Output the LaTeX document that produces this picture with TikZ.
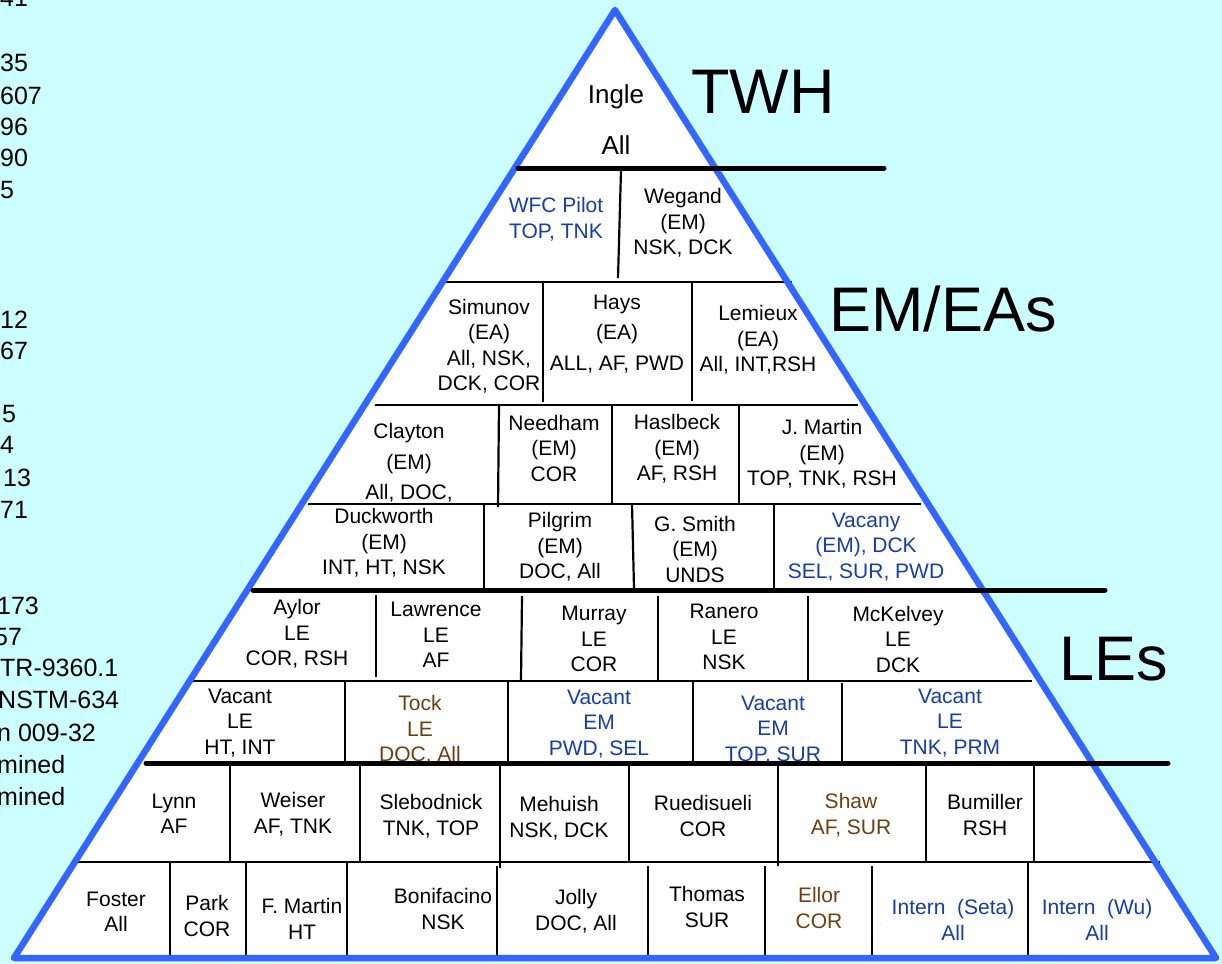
\documentclass[tikz,border=0pt]{standalone}
\usepackage{fontspec}
\setmainfont{Liberation Sans}
\definecolor{bgcyan}{RGB}{204,255,255}
\definecolor{triblue}{RGB}{51,102,255}
\definecolor{txtblue}{RGB}{22,62,168}
\definecolor{txtbrown}{RGB}{110,62,14}
\begin{document}
\begin{tikzpicture}[x=1pt,y=-1pt,
  cell/.style={align=center,inner sep=0pt,font=\fontsize{21}{25.5}\selectfont},
  widecell/.style={align=center,inner sep=0pt,font=\fontsize{21}{30.5}\selectfont},
  topcell/.style={inner sep=0pt,font=\fontsize{26}{30}\selectfont},
  bluetxt/.style={text=txtblue},
  browntxt/.style={text=txtbrown},
  tier/.style={inner sep=0pt,font=\fontsize{63}{70}\selectfont},
  sidetxt/.style={anchor=west,inner sep=0pt,font=\fontsize{25}{30}\selectfont},
  thinline/.style={line width=2.2pt},
  thickline/.style={line width=5pt,line cap=round},
  pyramidline/.style={draw=triblue,line width=6.5pt,line join=round}
]
\useasboundingbox (0,0) rectangle (1222,963);
\fill[bgcyan] (0,0) rectangle (1222,963);
\clip (0,0) rectangle (1222,963);

% pyramid
\coordinate (apex) at (615,10);
\coordinate (bl) at (14,958);
\coordinate (br) at (1216,958);
\fill[white] (apex) -- (bl) -- (br) -- cycle;

% thin horizontal separators
\draw[thinline] (446,282) -- (792,282);
\draw[thinline] (375,405) -- (858,405);
\draw[thinline] (308,504) -- (921,504);
\draw[thinline] (187,681) -- (1032,681);
\draw[thinline] (72,862) -- (1160,862);

% thin vertical separators
\draw[thinline] (621,170) -- (618,278);
\draw[thinline] (543,282) -- (543,402);
\draw[thinline] (692,282) -- (692,401);
\draw[thinline] (499,405) -- (498,507);
\draw[thinline] (612,405) -- (612,503);
\draw[thinline] (739,405) -- (739,503);
\draw[thinline] (484,504) -- (484,588);
\draw[thinline] (632,504) -- (634,588);
\draw[thinline] (774,504) -- (774,588);
\draw[thinline] (376,595) -- (376,677);
\draw[thinline] (522,596) -- (521,680);
\draw[thinline] (658,596) -- (658,680);
\draw[thinline] (808,596) -- (808,680);
\draw[thinline] (345,681) -- (345,763);
\draw[thinline] (508,681) -- (508,763);
\draw[thinline] (693,681) -- (693,763);
\draw[thinline] (842,683) -- (842,763);
\draw[thinline] (230,763) -- (230,862);
\draw[thinline] (360,763) -- (360,862);
\draw[thinline] (500,763) -- (500,868);
\draw[thinline] (629,763) -- (629,862);
\draw[thinline] (778,763) -- (778,866);
\draw[thinline] (926,763) -- (926,862);
\draw[thinline] (1034,763) -- (1034,862);
\draw[thinline] (170,862) -- (170,958);
\draw[thinline] (246,862) -- (246,958);
\draw[thinline] (347,862) -- (347,958);
\draw[thinline] (497,866) -- (497,958);
\draw[thinline] (648,866) -- (648,958);
\draw[thinline] (765,866) -- (765,958);
\draw[thinline] (872,866) -- (872,958);
\draw[thinline] (1028,862) -- (1028,958);

% top
\node[topcell] (ingle) at (616,97) {Ingle};
\node[topcell] (ingleall) at (616,145) {All};

% row 2
\node[cell,bluetxt] (wfc) at (556,219) {WFC Pilot\\TOP, TNK};
\node[cell] (wegand) at (683,223) {Wegand\\(EM)\\NSK, DCK};

% row 3
\node[cell] (simunov) at (489,346) {Simunov\\(EA)\\All, NSK,\\DCK, COR};
\node[widecell] (hays) at (617,334) {Hays\\(EA)\\ALL, AF, PWD};
\node[cell] (lemieux) at (758,340) {Lemieux\\(EA)\\All, INT,RSH};

% row 4
\node[widecell] (clayton) at (409,463) {Clayton\\(EM)\\All, DOC,};
\node[cell] (needham) at (554,448) {Needham\\(EM)\\COR};
\node[cell] (haslbeck) at (677,449) {Haslbeck\\(EM)\\AF, RSH};
\node[cell] (jmartin) at (822,454) {J. Martin\\(EM)\\TOP, TNK, RSH};

% row 5
\node[cell] (duckworth) at (384,543) {Duckworth\\(EM)\\INT, HT, NSK};
\node[cell] (pilgrim) at (560,547) {Pilgrim\\(EM)\\DOC, All};
\node[cell] (gsmith) at (695,549) {G. Smith\\(EM)\\UNDS};
\node[cell,bluetxt] (vacany) at (866,547) {Vacany\\(EM), DCK\\SEL, SUR, PWD};

% row 6
\node[cell] (aylor) at (297,634) {Aylor\\LE\\COR, RSH};
\node[cell] (lawrence) at (436,635) {Lawrence\\LE\\AF};
\node[cell] (murray) at (594,639) {Murray\\LE\\COR};
\node[cell] (ranero) at (724,637) {Ranero\\LE\\NSK};
\node[cell] (mckelvey) at (898,639) {McKelvey\\LE\\DCK};

% row 7
\node[cell] (vacanta) at (240,723) {Vacant\\LE\\HT, INT};
\node[cell,browntxt] (tock) at (420,730) {Tock\\LE\\DOC, All};
\node[cell,bluetxt] (vacantb) at (599,724) {Vacant\\EM\\PWD, SEL};
\node[cell,bluetxt] (vacantc) at (773,730) {Vacant\\EM\\TOP, SUR};
\node[cell,bluetxt] (vacantd) at (950,723) {Vacant\\LE\\TNK, PRM};

% row 8
\node[cell] (lynn) at (174,814) {Lynn\\AF};
\node[cell] (weiser) at (293,814) {Weiser\\AF, TNK};
\node[cell] (slebodnick) at (431,816) {Slebodnick\\TNK, TOP};
\node[cell] (mehuish) at (559,818) {Mehuish\\NSK, DCK};
\node[cell] (ruedisueli) at (703,816) {Ruedisueli\\COR};
\node[cell,browntxt] (shaw) at (851,815) {Shaw\\AF, SUR};
\node[cell] (bumiller) at (985,815) {Bumiller\\RSH};

% row 9
\node[cell] (foster) at (116,912) {Foster\\All};
\node[cell] (park) at (207,916) {Park\\COR};
\node[cell] (fmartin) at (302,919) {F. Martin\\HT};
\node[cell] (bonifacino) at (443,909) {Bonifacino\\NSK};
\node[cell] (jolly) at (576,911) {Jolly\\DOC, All};
\node[cell] (thomas) at (707,907) {Thomas\\SUR};
\node[cell,browntxt] (ellor) at (819,908) {Ellor\\COR};
\node[cell,bluetxt] (internseta) at (953,920) {Intern\ \ (Seta)\\All};
\node[cell,bluetxt] (internwu) at (1097,920) {Intern\ \ (Wu)\\All};

% outline and tier separators
\draw[pyramidline] (apex) -- (bl) -- (br) -- cycle;
\draw[thickline] (518,168) -- (884,168);
\draw[thickline] (253,590) -- (1105,590);
\draw[thickline] (146,763) -- (1168,763);

% tier labels
\node[tier] (twh) at (763,92) {TWH};
\node[tier] (emeas) at (943,309) {EM/EAs};
\node[tier] (les) at (1114,659) {LEs};

% clipped side text
\node[sidetxt] (s1) at (0,-2) {41};
\node[sidetxt] (s2) at (0,63) {35};
\node[sidetxt] (s3) at (0,96) {607};
\node[sidetxt] (s4) at (0,127) {96};
\node[sidetxt] (s5) at (0,158) {90};
\node[sidetxt] (s6) at (0,190) {5};
\node[sidetxt] (s7) at (0,320) {12};
\node[sidetxt] (s8) at (0,351) {67};
\node[sidetxt] (s9) at (2,414) {5};
\node[sidetxt] (s10) at (0,445) {4};
\node[sidetxt] (s11) at (3,478) {13};
\node[sidetxt] (s12) at (0,510) {71};
\node[sidetxt] (s13) at (-3,606) {173};
\node[sidetxt] (s14) at (-6,637) {57};
\node[sidetxt] (s15) at (0,668) {TR-9360.1};
\node[sidetxt] (s16) at (-2,700) {NSTM-634};
\node[sidetxt] (s17) at (-3,733) {n 009-32};
\node[sidetxt] (s18) at (-3,765) {mined};
\node[sidetxt] (s19) at (-3,797) {mined};
\end{tikzpicture}
\end{document}
